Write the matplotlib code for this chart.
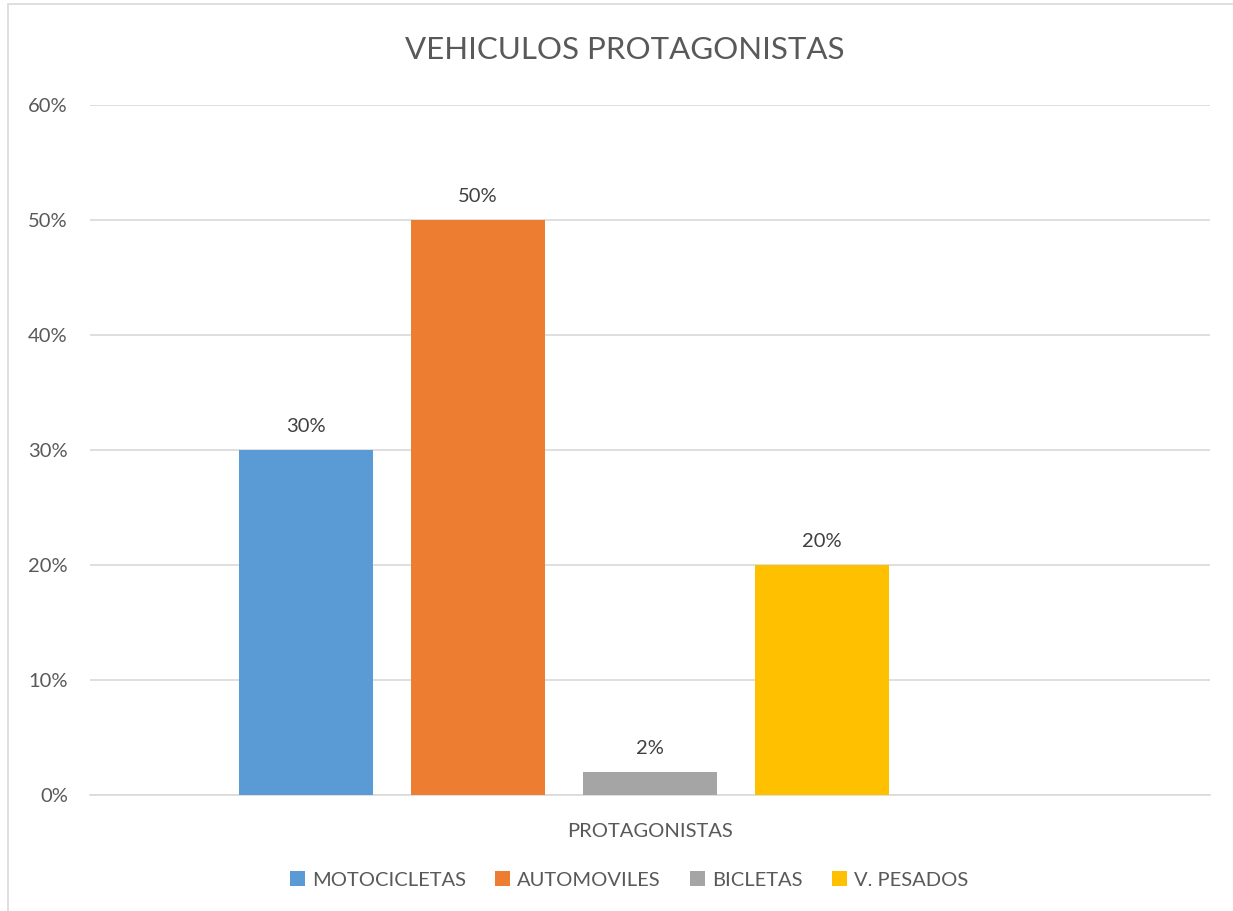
import matplotlib.pyplot as plt
from matplotlib.patches import Rectangle

# data
series = ["MOTOCICLETAS", "AUTOMOVILES", "BICLETAS", "V. PESADOS"]
values = [0.30, 0.50, 0.02, 0.20]
colors = ["#5B9BD5", "#ED7D31", "#A5A5A5", "#FFC000"]
category = "PROTAGONISTAS"
yticks = [0, 0.1, 0.2, 0.3, 0.4, 0.5, 0.6]
ytick_labels = ["0%", "10%", "20%", "30%", "40%", "50%", "60%"]

plt.rcParams['font.family'] = ['Lato', 'DejaVu Sans']
txt = "#595959"

fig = plt.figure(figsize=(12.33, 9.11), dpi=100)
ax = fig.add_axes([90/1233, 116/911, 1120/1233, 690/911])

# chart border
fig.patches.append(Rectangle((8/1233, -0.05), 1.2, (911-4)/911 + 0.05, transform=fig.transFigure,
                             fill=False, edgecolor="#D9D9D9", linewidth=1.2))

# 5 slots in the cluster (last one empty)
n_slots = 5
step = 0.1536
width = 0.1196
for i, (name, v, c) in enumerate(zip(series, values, colors)):
    x = (i - (n_slots - 1) / 2) * step
    ax.bar(x, v, width=width, color=c, label=name, zorder=3)
    ax.text(x, v + 0.013, f"{v*100:.0f}%", ha="center", va="bottom", fontsize=14.5, color="#404040")

ax.set_xlim(-0.5, 0.5)
ax.set_ylim(0, 0.6)
ax.set_yticks(yticks)
ax.set_yticklabels(ytick_labels, fontsize=14.5, color=txt)
ax.set_xticks([0])
ax.set_xticklabels([category], fontsize=14.5, color=txt)
ax.tick_params(axis="y", length=0, pad=16)
ax.tick_params(axis="x", length=0, pad=20)
ax.grid(axis="y", color="#D9D9D9", linewidth=1.2, zorder=0)
for s in ["top", "right", "left"]:
    ax.spines[s].set_visible(False)
ax.spines["bottom"].set_color("#D9D9D9")
ax.spines["bottom"].set_linewidth(1.2)

fig.text(625/1233, 1 - 50/911, "VEHICULOS PROTAGONISTAS", ha="center", va="center", fontsize=22.5, color=txt)

fig.legend(loc="center", bbox_to_anchor=(629/1233, 1 - 880/911), ncol=4, frameon=False,
           fontsize=14.5, handlelength=0.75, handleheight=0.75, handletextpad=0.35, columnspacing=1.45,
           labelcolor=txt)

fig.savefig("out.png", dpi=100)
